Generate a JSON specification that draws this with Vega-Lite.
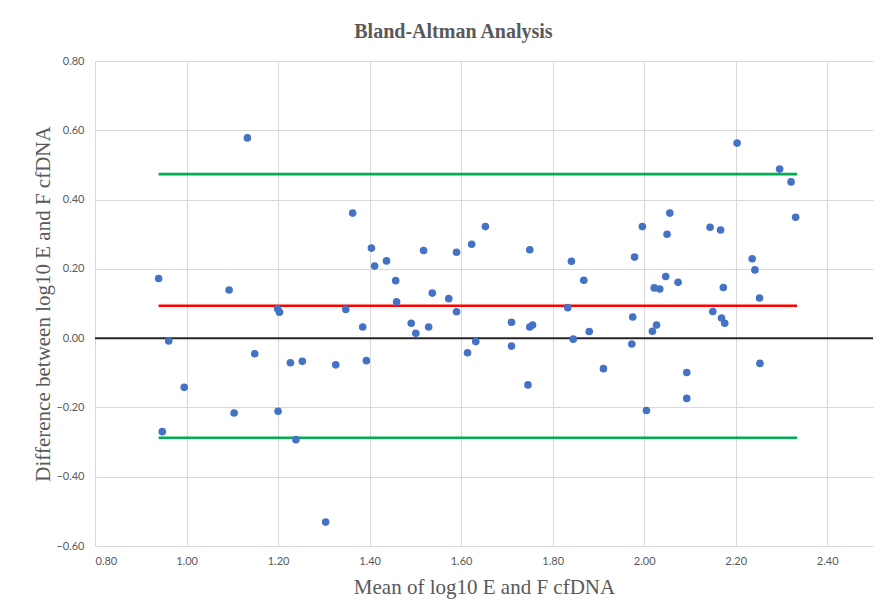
{
  "$schema": "https://vega.github.io/schema/vega-lite/v6.json",
  "autosize": {"type": "none"},
  "padding": {"left": 95, "top": 61, "right": 16, "bottom": 69},
  "width": 778,
  "height": 485,
  "background": "#ffffff",
  "config": {"view": {"stroke": null}},
  "title": {
    "text": "Bland-Altman Analysis",
    "font": "Liberation Serif",
    "fontSize": 20,
    "fontWeight": "bold",
    "color": "#595959",
    "anchor": "middle",
    "frame": "bounds",
    "offset": 13
  },
  "datasets": {
    "points": [
      {"mean": 0.939, "diff": 0.172}, {"mean": 0.947, "diff": -0.270}, {"mean": 0.961, "diff": -0.008},
      {"mean": 0.995, "diff": -0.142}, {"mean": 1.093, "diff": 0.139}, {"mean": 1.104, "diff": -0.216},
      {"mean": 1.133, "diff": 0.578}, {"mean": 1.149, "diff": -0.045}, {"mean": 1.199, "diff": 0.085},
      {"mean": 1.203, "diff": 0.075}, {"mean": 1.200, "diff": -0.211}, {"mean": 1.227, "diff": -0.071},
      {"mean": 1.239, "diff": -0.293}, {"mean": 1.253, "diff": -0.067}, {"mean": 1.304, "diff": -0.531},
      {"mean": 1.326, "diff": -0.077}, {"mean": 1.348, "diff": 0.083}, {"mean": 1.363, "diff": 0.361},
      {"mean": 1.385, "diff": 0.032}, {"mean": 1.393, "diff": -0.065}, {"mean": 1.404, "diff": 0.260},
      {"mean": 1.411, "diff": 0.208}, {"mean": 1.437, "diff": 0.223}, {"mean": 1.457, "diff": 0.166},
      {"mean": 1.459, "diff": 0.105}, {"mean": 1.491, "diff": 0.043}, {"mean": 1.501, "diff": 0.014},
      {"mean": 1.518, "diff": 0.253}, {"mean": 1.529, "diff": 0.032}, {"mean": 1.537, "diff": 0.130},
      {"mean": 1.573, "diff": 0.114}, {"mean": 1.590, "diff": 0.248}, {"mean": 1.590, "diff": 0.076},
      {"mean": 1.614, "diff": -0.042}, {"mean": 1.623, "diff": 0.271}, {"mean": 1.632, "diff": -0.010},
      {"mean": 1.653, "diff": 0.322}, {"mean": 1.710, "diff": 0.046}, {"mean": 1.710, "diff": -0.023},
      {"mean": 1.746, "diff": -0.135}, {"mean": 1.750, "diff": 0.255}, {"mean": 1.750, "diff": 0.032},
      {"mean": 1.756, "diff": 0.038}, {"mean": 1.833, "diff": 0.088}, {"mean": 1.841, "diff": 0.222},
      {"mean": 1.845, "diff": -0.003}, {"mean": 1.868, "diff": 0.167}, {"mean": 1.880, "diff": 0.019},
      {"mean": 1.911, "diff": -0.088}, {"mean": 1.973, "diff": -0.017}, {"mean": 1.975, "diff": 0.061},
      {"mean": 1.979, "diff": 0.234}, {"mean": 1.996, "diff": 0.322}, {"mean": 2.005, "diff": -0.209},
      {"mean": 2.018, "diff": 0.020}, {"mean": 2.022, "diff": 0.145}, {"mean": 2.027, "diff": 0.038},
      {"mean": 2.034, "diff": 0.142}, {"mean": 2.047, "diff": 0.178}, {"mean": 2.050, "diff": 0.300},
      {"mean": 2.056, "diff": 0.361}, {"mean": 2.074, "diff": 0.161}, {"mean": 2.093, "diff": -0.099},
      {"mean": 2.093, "diff": -0.174}, {"mean": 2.144, "diff": 0.320}, {"mean": 2.150, "diff": 0.077},
      {"mean": 2.167, "diff": 0.312}, {"mean": 2.169, "diff": 0.058}, {"mean": 2.173, "diff": 0.146},
      {"mean": 2.176, "diff": 0.043}, {"mean": 2.203, "diff": 0.563}, {"mean": 2.236, "diff": 0.229},
      {"mean": 2.242, "diff": 0.197}, {"mean": 2.252, "diff": 0.116}, {"mean": 2.253, "diff": -0.073},
      {"mean": 2.296, "diff": 0.488}, {"mean": 2.321, "diff": 0.451}, {"mean": 2.331, "diff": 0.349}
    ],
    "limits": [
      {"name": "Upper limit", "start": 0.939, "end": 2.334, "value": 0.4735},
      {"name": "Mean difference", "start": 0.939, "end": 2.334, "value": 0.0935},
      {"name": "Lower limit", "start": 0.939, "end": 2.334, "value": -0.2875}
    ],
    "zero": [{"value": 0}]
  },
  "layer": [
    {
      "data": {"name": "zero"},
      "mark": {"type": "rule", "color": "#262626", "strokeWidth": 2},
      "encoding": {
        "y": {
          "field": "value", "type": "quantitative",
          "scale": {"domain": [-0.6, 0.8], "nice": false, "zero": false},
          "axis": {
            "values": [-0.6, -0.4, -0.2, 0, 0.2, 0.4, 0.6, 0.8],
            "format": ".2f",
            "title": "Difference between log10 E and F cfDNA",
            "titleFont": "Liberation Serif",
            "titleFontSize": 21,
            "titleFontWeight": "normal",
            "titleColor": "#595959",
            "titlePadding": 2,
            "labelFont": "Lato",
            "labelFontSize": 11,
            "labelColor": "#595959",
            "labelPadding": 11,
            "ticks": false,
            "domain": false,
            "gridColor": "#D9D9D9",
            "gridWidth": 1
          }
        }
      }
    },
    {
      "data": {"name": "limits"},
      "mark": {"type": "rule", "strokeWidth": 2.6},
      "encoding": {
        "x": {"field": "start", "type": "quantitative"},
        "x2": {"field": "end"},
        "y": {"field": "value", "type": "quantitative"},
        "color": {
          "field": "name", "type": "nominal",
          "scale": {"domain": ["Upper limit", "Mean difference", "Lower limit"], "range": ["#00B050", "#FF0000", "#00B050"]},
          "legend": null
        }
      }
    },
    {
      "data": {"name": "points"},
      "mark": {"type": "circle", "size": 58, "color": "#4472C4", "opacity": 1},
      "encoding": {
        "x": {
          "field": "mean", "type": "quantitative",
          "scale": {"domain": [0.8, 2.5], "nice": false, "zero": false},
          "axis": {
            "values": [0.8, 1.0, 1.2, 1.4, 1.6, 1.8, 2.0, 2.2, 2.4],
            "format": ".2f",
            "title": "Mean of log10 E and F cfDNA",
            "titleFont": "Liberation Serif",
            "titleFontSize": 21,
            "titleFontWeight": "normal",
            "titleColor": "#595959",
            "titlePadding": 10,
            "labelFont": "Lato",
            "labelFontSize": 11,
            "labelColor": "#595959",
            "labelPadding": 9,
            "ticks": false,
            "domain": false,
            "gridColor": "#D9D9D9",
            "gridWidth": 1
          }
        },
        "y": {"field": "diff", "type": "quantitative"}
      }
    }
  ]
}
